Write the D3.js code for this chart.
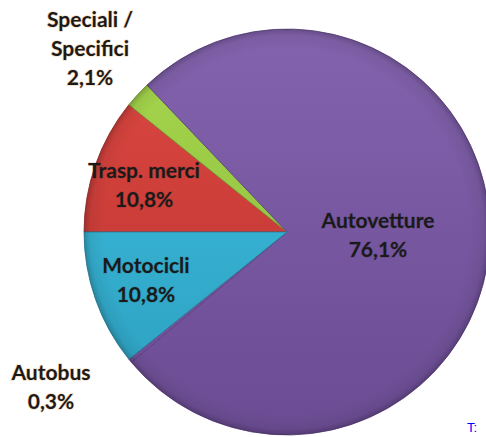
<!DOCTYPE html>
<html><head><meta charset="utf-8">
<script src="https://cdn.jsdelivr.net/npm/d3@7"></script>
<style>
html,body{margin:0;padding:0;background:#fff;}
svg{display:block;}
</style></head>
<body>
<svg id="chart" width="486" height="437"></svg>
<script>
// Data (clockwise order starting from 9 o'clock)
const categories = ["Trasp. merci", "Speciali / Specifici", "Autovetture", "Autobus", "Motocicli"];
const values = [10.8, 2.1, 76.1, 0.3, 10.8];
const valueLabels = ["10,8%", "2,1%", "76,1%", "0,3%", "10,8%"];
const labelLines = [["Trasp. merci"], ["Speciali /", "Specifici"], ["Autovetture"], ["Autobus"], ["Motocicli"]];
const topColors = ["#de4842", "#a8d84e", "#8363ad", "#8363ad", "#3fc2e3"];
const bottomColors = ["#b8322f", "#85b43a", "#6b4c93", "#6b4c93", "#2c9dbd"];
const strokeColors = ["#9a2a27", "#6e9530", "#5a3e7e", "#5a3e7e", "#24809a"];
// label anchor positions (center x, first-line baseline y)
const labelPos = [[144, 178], [90, 27], [378, 228], [51, 380], [146, 273]];

const svg = d3.select("#chart");
const cx = 287, cy = 232, R = 203;
const defs = svg.append("defs");

const data = categories.map((c, i) => ({cat: c, value: values[i], i}));
const pie = d3.pie().value(d => d.value).sort(null)
  .startAngle(-Math.PI / 2).endAngle(3 * Math.PI / 2);
const arc = d3.arc().innerRadius(0).outerRadius(R);
const arcs = pie(data);

arcs.forEach((a, i) => {
  const g = defs.append("linearGradient").attr("id", "grad" + i)
    .attr("gradientUnits", "userSpaceOnUse")
    .attr("x1", 0).attr("y1", -R).attr("x2", 0).attr("y2", R);
  g.append("stop").attr("offset", "0%").attr("stop-color", topColors[i]);
  g.append("stop").attr("offset", "100%").attr("stop-color", bottomColors[i]);
});

const rg = defs.append("radialGradient").attr("id", "edgeShade")
  .attr("gradientUnits", "userSpaceOnUse").attr("cx", 0).attr("cy", 0).attr("r", R);
rg.append("stop").attr("offset", "0.90").attr("stop-color", "#000").attr("stop-opacity", 0);
rg.append("stop").attr("offset", "0.97").attr("stop-color", "#000").attr("stop-opacity", 0.06);
rg.append("stop").attr("offset", "1").attr("stop-color", "#000").attr("stop-opacity", 0.22);

const gPie = svg.append("g").attr("transform", `translate(${cx},${cy})`);
gPie.selectAll("path.slice").data(arcs).enter().append("path")
  .attr("class", "slice")
  .attr("d", arc)
  .attr("fill", (d, i) => `url(#grad${i})`)
  .attr("stroke", (d, i) => strokeColors[i])
  .attr("stroke-width", 0.8)
  .attr("stroke-linejoin", "round");
gPie.append("circle").attr("r", R).attr("fill", "url(#edgeShade)").attr("pointer-events", "none");

// labels
const gLab = svg.append("g")
  .attr("font-family", "Lato, 'Open Sans', sans-serif")
  .attr("font-weight", "bold")
  .attr("font-size", 21)
  .attr("fill", "#1a1a1a")
  .attr("text-anchor", "middle");
const lineH = 29;
arcs.forEach((a, i) => {
  const lines = labelLines[i].concat([valueLabels[i]]);
  const t = gLab.append("text")
    .attr("x", labelPos[i][0]).attr("y", labelPos[i][1])
    .style("paint-order", "stroke")
    .attr("stroke", i === 1 || i === 3 ? "rgba(230,150,60,0.35)" : "rgba(0,0,0,0.12)")
    .attr("stroke-width", 1.5);
  lines.forEach((l, k) => {
    t.append("tspan").attr("x", labelPos[i][0]).attr("y", labelPos[i][1] + k * lineH).text(l);
  });
});

// partly visible blue text at bottom right
svg.append("text").attr("x", 467).attr("y", 432)
  .attr("font-family", "'Liberation Sans', Arial, sans-serif")
  .attr("font-size", 13).attr("fill", "#0000ff").text("T:");
</script>
</body></html>
